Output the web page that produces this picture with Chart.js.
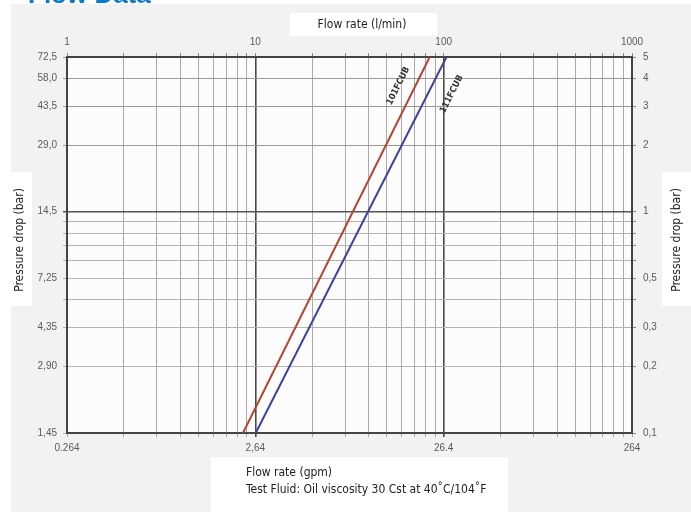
<!DOCTYPE html>
<html lang="en">
<head>
<meta charset="UTF-8">
<title>Flow Data</title>
<script src="https://cdn.jsdelivr.net/npm/chart.js"></script>
<style>
    body { margin: 0; padding: 0; background: #ffffff; }
    canvas { display: block; }
</style>
</head>
<body>
<canvas id="flowChart" width="691" height="512"></canvas>
<script>
    // Flow rate (l/min) vs pressure drop (bar)
    const seriesNames = ['101FCUB', '111FCUB'];
    const seriesColors = ['#b0472e', '#3d4398'];
    const redFlow = [8.6, 84.3];
    const redDrop = [0.1, 5];
    const blueFlow = [10.05, 103.5];
    const blueDrop = [0.1, 5];

    // tick labels
    const lpmTicks = [1, 10, 100, 1000];
    const lpmLabels = ['1', '10', '100', '1000'];
    const gpmLabels = ['0.264', '2,64', '26.4', '264'];
    const barTicks = [0.1, 0.2, 0.3, 0.5, 1, 2, 3, 4, 5];
    const barLabels = ['0,1', '0,2', '0,3', '0,5', '1', '2', '3', '4', '5'];
    const psiLabels = ['1,45', '2,90', '4,35', '7,25', '14,5', '29,0', '43,5', '58,0', '72,5'];

    // grid lines
    const xGrid = [];
    [1, 10, 100].forEach(d => { for (let k = 1; k < 10; k++) xGrid.push(d * k); });
    xGrid.push(1000);
    const yGrid = [0.1, 0.2, 0.3, 0.4, 0.5, 0.6, 0.7, 0.8, 0.9, 1, 2, 3, 4, 5];

    function pick(v, vals, labels) {
        const i = vals.findIndex(t => Math.abs(Math.log10(t) - Math.log10(v)) < 1e-6);
        return i < 0 ? '' : labels[i];
    }
    function isDecade(v) {
        return v === 10 || v === 100;
    }

    const tickFont = { family: 'Liberation Sans', size: 10 };
    const tickColor = '#5a5a5a';

    const xGridStyle = {
        color: ctx => isDecade(ctx.tick && ctx.tick.value) ? '#4a4a4a' : '#a9a9a9',
        lineWidth: ctx => isDecade(ctx.tick && ctx.tick.value) ? 1.6 : 1,
        tickLength: 4
    };
    const yGridStyle = {
        color: ctx => {
            const v = ctx.tick && ctx.tick.value;
            if (Math.abs(v - 1) < 1e-6) return '#555';
            if (v >= 2) return '#999';
            return '#b3b3b3';
        },
        lineWidth: ctx => {
            const v = ctx.tick && ctx.tick.value;
            return Math.abs(v - 1) < 1e-6 ? 1.5 : 1;
        },
        tickLength: 4
    };

    const backdrop = {
        id: 'backdrop',
        beforeDraw(chart) {
            const c = chart.ctx;
            const a = chart.chartArea;
            c.save();
            c.fillStyle = '#ffffff';
            c.fillRect(0, 0, chart.width, chart.height);
            c.fillStyle = '#f2f2f2';
            c.fillRect(11, 4, chart.width - 11, chart.height - 4);
            c.fillStyle = '#fcfcfc';
            c.fillRect(a.left, a.top, a.right - a.left, a.bottom - a.top);
            // white boxes behind the titles
            c.fillStyle = '#ffffff';
            c.fillRect(290, 13, 147, 23);
            c.fillRect(11, 172, 21, 134);
            c.fillRect(662, 172, 29, 134);
            c.fillRect(211, 457, 297, 55);

            // page heading, cut off at the top
            c.fillStyle = '#0a78cc';
            c.font = 'bold 26px "Liberation Sans"';
            c.textBaseline = 'alphabetic';
            c.textAlign = 'left';
            c.fillText('Flow Data', 28, 3);

            c.fillStyle = '#222';
            c.font = '12px "Liberation Sans Narrow", "DejaVu Sans Condensed"';
            c.textAlign = 'center';
            c.textBaseline = 'middle';
            c.fillText('Flow rate (l/min)', 362, 25);
            c.save();
            c.translate(20, 240);
            c.rotate(-Math.PI / 2);
            c.fillText('Pressure drop (bar)', 0, 0);
            c.restore();
            c.save();
            c.translate(677, 240);
            c.rotate(-Math.PI / 2);
            c.fillText('Pressure drop (bar)', 0, 0);
            c.restore();
            c.textAlign = 'left';
            c.fillText('Flow rate (gpm)', 246, 473);
            c.fillText('Test Fluid: Oil viscosity 30 Cst at 40\u02DAC/104\u02DAF', 246, 490);
            c.restore();
        },
        afterDatasetsDraw(chart) {
            // rotated series names along the lines
            const c = chart.ctx;
            const xs = chart.scales.x;
            const ys = chart.scales.y;
            const labelAt = [
                { ds: 0, drop: 3.7, dx: -17 },
                { ds: 1, drop: 3.4, dx: 24 }
            ];
            c.save();
            c.font = 'bold 9px "Liberation Sans Narrow", "DejaVu Sans Condensed"';
            c.fillStyle = '#333';
            c.textAlign = 'center';
            c.textBaseline = 'middle';
            labelAt.forEach(l => {
                const pts = chart.data.datasets[l.ds].data;
                const x0 = xs.getPixelForValue(pts[0].x), y0 = ys.getPixelForValue(pts[0].y);
                const x1 = xs.getPixelForValue(pts[1].x), y1 = ys.getPixelForValue(pts[1].y);
                const py = ys.getPixelForValue(l.drop);
                const px = x0 + (x1 - x0) * (py - y0) / (y1 - y0);
                c.save();
                c.translate(px + l.dx, py);
                c.rotate(Math.atan2(y1 - y0, x1 - x0));
                c.fillText(seriesNames[l.ds], 0, 0);
                c.restore();
            });
            c.restore();
        }
    };

    new Chart(document.getElementById('flowChart'), {
        type: 'line',
        data: {
            datasets: [
                {
                    label: seriesNames[0],
                    data: redFlow.map((f, i) => ({ x: f, y: redDrop[i] })),
                    borderColor: seriesColors[0],
                    borderWidth: 2,
                    pointRadius: 0,
                    xAxisID: 'x',
                    yAxisID: 'y'
                },
                {
                    label: seriesNames[1],
                    data: blueFlow.map((f, i) => ({ x: f, y: blueDrop[i] })),
                    borderColor: seriesColors[1],
                    borderWidth: 2,
                    pointRadius: 0,
                    xAxisID: 'x',
                    yAxisID: 'y'
                }
            ]
        },
        options: {
            responsive: false,
            animation: false,
            devicePixelRatio: 1,
            layout: { padding: 0 },
            plugins: { legend: { display: false }, tooltip: { enabled: false } },
            scales: {
                x: {
                    type: 'logarithmic', position: 'bottom', min: 1, max: 1000,
                    afterBuildTicks: s => { s.ticks = xGrid.map(v => ({ value: v })); },
                    afterFit: s => { s.height = 79; },
                    ticks: { autoSkip: false, maxRotation: 0, padding: 5, color: tickColor, font: tickFont,
                        callback: v => pick(v, lpmTicks, gpmLabels) },
                    grid: xGridStyle,
                    border: { color: '#444', width: 2 }
                },
                x2: {
                    axis: 'x', type: 'logarithmic', position: 'top', min: 1, max: 1000,
                    afterBuildTicks: s => { s.ticks = xGrid.map(v => ({ value: v })); },
                    afterFit: s => { s.height = 57; },
                    ticks: { autoSkip: false, maxRotation: 0, padding: 5, color: tickColor, font: tickFont,
                        callback: v => pick(v, lpmTicks, lpmLabels) },
                    grid: { drawOnChartArea: false, tickLength: 4, color: '#888' },
                    border: { color: '#444', width: 2 }
                },
                y: {
                    type: 'logarithmic', position: 'left', min: 0.1, max: 5,
                    afterBuildTicks: s => { s.ticks = yGrid.map(v => ({ value: v })); },
                    afterFit: s => { s.width = 67; },
                    ticks: { autoSkip: false, padding: 6, color: tickColor, font: tickFont,
                        callback: v => pick(v, barTicks, psiLabels) },
                    grid: yGridStyle,
                    border: { color: '#444', width: 2 }
                },
                y2: {
                    axis: 'y', type: 'logarithmic', position: 'right', min: 0.1, max: 5,
                    afterBuildTicks: s => { s.ticks = yGrid.map(v => ({ value: v })); },
                    afterFit: s => { s.width = 59; },
                    ticks: { autoSkip: false, padding: 7, color: tickColor, font: tickFont,
                        callback: v => pick(v, barTicks, barLabels) },
                    grid: { drawOnChartArea: false, tickLength: 4, color: '#888' },
                    border: { color: '#444', width: 2 }
                }
            }
        },
        plugins: [backdrop]
    });
</script>
</body>
</html>
